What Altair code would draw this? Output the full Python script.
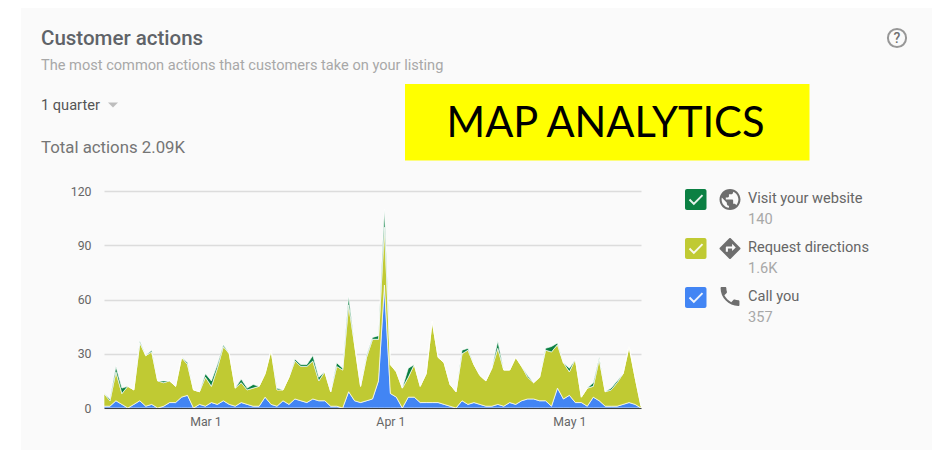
import altair as alt
import pandas as pd

# Daily values, 12 Feb - 13 May
call_you = [1,1,4,2,0,2,4,1,2,0,1,3,3,6,7,0,2,1,3,2,4,2,1,3,2,1,1,6,2,1,4,2,5,4,3,5,4,4,1,1,0,
            9,4,3,4,5,15,68,8,6,0,6,6,3,3,3,3,2,1,0,4,2,3,2,1,1,2,1,3,2,4,5,5,4,4,1,11,5,7,3,3,1,6,4,1,1,1,2,3,2,0]
directions_top = [8,4,20,8,12,10,36,29,31,15,14,15,12,28,24,10,9,17,12,22,34,30,11,14,10,11,12,19,32,10,10,17,26,23,23,26,15,20,9,23,21,
                  57,35,12,28,38,38,100,24,20,11,17,24,12,19,48,28,25,13,9,30,32,24,18,15,22,33,21,21,28,23,17,14,17,32,31,35,25,20,27,6,11,12,27,9,10,14,19,34,17,1]
website_top = [8,5,23,11,12,10,37,29,32,15,15,15,12,28,25,10,9,19,15,24,35,30,11,16,11,13,12,19,32,11,10,17,27,24,24,29,17,20,9,25,22,
               62,35,12,29,39,40,110,24,20,11,22,24,12,19,48,28,25,13,9,32,33,24,18,15,22,37,21,21,28,23,18,14,17,33,34,36,25,22,27,6,11,14,28,9,11,15,19,34,17,1]

series_names = ["Visit your website", "Request directions", "Call you"]
series_colors = ["#0b8043", "#c0ca33", "#4285f4"]
legend_values = ["140", "1.6K", "357"]
y_ticks = [0, 30, 60, 90, 120]
dates = pd.date_range("2018-02-12", periods=len(call_you)).strftime("%Y/%m/%d").tolist()

rows = []
for i, d in enumerate(dates):
    rows.append({"date": d, "series": "Call you", "rank": 0, "value": call_you[i]})
    rows.append({"date": d, "series": "Request directions", "rank": 1, "value": directions_top[i] - call_you[i]})
    rows.append({"date": d, "series": "Visit your website", "rank": 2, "value": website_top[i] - directions_top[i]})
df = pd.DataFrame(rows)

OX, OY = 104, 191  # page position of the plot origin


def one():
    return alt.Chart(alt.Data(values=[{"a": 1}]))


def note(text, px, py, size, color, weight=400, font="Roboto", align="left"):
    return one().mark_text(text=text, fontSize=size, color=color, fontWeight=weight, font=font,
                           align=align, baseline="middle").encode(
        x=alt.value(px - OX), y=alt.value(py - OY))


def box(x0, y0, x1, y1, color, radius=0):
    return one().mark_rect(color=color, cornerRadius=radius).encode(
        x=alt.value(x0 - OX), x2=alt.value(x1 - OX), y=alt.value(y0 - OY), y2=alt.value(y1 - OY))


def icon(path, px, py, size, color, filled=True, width=0, opacity=1):
    return one().mark_point(shape=path, size=size, filled=filled, color=color, opacity=opacity,
                            strokeWidth=width).encode(x=alt.value(px - OX), y=alt.value(py - OY))


GLOBE = ("M0 -10C-5.52 -10 -10 -5.52 -10 0s4.48 10 10 10 10-4.48 10-10S5.52 -10 0 -10zm-1 17.93c-3.95-.49-7-3.85-7-7.93 "
         "0-.62.08-1.21.21-1.79L-3 3v1c0 1.1.9 2 2 2v1.93zm6.9-2.54c-.26-.81-1-1.39-1.9-1.39h-1v-3c0-.55-.45-1-1-1H-4v-2h2"
         "c.55 0 1-.45 1-1V-5h2c1.1 0 2-.9 2-2v-.41c2.93 1.19 5 4.06 5 7.41 0 2.08-.8 3.97-2.1 5.39z")
ROUTE = ("M9.71 -.71l-9-9c-.39-.39-1.02-.39-1.41 0l-9 9c-.39.39-.39 1.02 0 1.41l9 9c.39.39 1.02.39 1.41 0l9-9"
         "c.39-.38.39-1.01 0-1.41zM2 2.5V0h-4v3H-4v-4c0-.55.45-1 1-1h5V-4.5l3.5 3.5-3.5 3.5z")
PHONE = ("M-5.38 -1.21c1.44 2.83 3.76 5.14 6.59 6.59l2.2-2.2c.27-.27.67-.36 1.02-.24 1.12.37 2.33.57 3.57.57"
         ".55 0 1 .45 1 1V8c0 .55-.45 1-1 1-9.39 0-17-7.61-17-17 0-.55.45-1 1-1h3.5c.55 0 1 .45 1 1 "
         "0 1.25.2 2.45.57 3.57.11.35.03.74-.25 1.02l-2.2 2.2z")
CHECK = "M-6 0L-2 4L6 -4"

areas = alt.Chart(df).mark_area(
    interpolate="linear", opacity=1, stroke="#ffffff", strokeWidth=0.8, strokeOpacity=0.85,
).encode(
    x=alt.X("date:T", title=None, scale=alt.Scale(nice=False),
            axis=alt.Axis(values=[alt.DateTime(year=2018, month=3, date=1),
                                  alt.DateTime(year=2018, month=4, date=1),
                                  alt.DateTime(year=2018, month=5, date=1)],
                          format="%b %-d", grid=False, ticks=False, labelPadding=7,
                          domainColor="#3c4043", domainWidth=1.2, zindex=1,
                          labelFont="Roboto", labelFontSize=12.3, labelColor="#666666")),
    y=alt.Y("value:Q", stack="zero", title=None, scale=alt.Scale(domain=[0, 120], nice=False),
            axis=alt.Axis(values=y_ticks, ticks=False, domain=False, labelPadding=13,
                          gridColor="#dcdcdc", gridWidth=1.5,
                          labelFont="Roboto", labelFontSize=12.3, labelColor="#666666")),
    color=alt.Color("series:N", legend=None,
                    scale=alt.Scale(domain=series_names, range=series_colors)),
    order=alt.Order("rank:Q", sort="ascending"),
)

legend_layers = []
for name, col, val, yy, path in zip(series_names, series_colors, legend_values, [199.5, 248.5, 297.5],
                                    [GLOBE, ROUTE, PHONE]):
    legend_layers += [
        box(685, yy - 10.5, 706.5, yy + 10.5, col, 2),
        icon(CHECK, 696, yy, 4.7, "#ffffff", filled=False, width=2, opacity=0.9),
        icon(path, 730, yy + (0 if path != PHONE else -1), 4.4, "#6e6e6e"),
        note(name, 748, yy - 0.5, 14.6, "#666666"),
        note(val, 748, yy + 20.5, 14.6, "#a8a8a8"),
    ]

layers = [
    box(8, 8, 21, 451, "#ffffff"),
    box(8, 450, 932, 451, "#ffffff"),
    areas,
    note("Customer actions", 41, 39, 20.5, "#5f6368", weight=500),
    note("The most common actions that customers take on your listing", 41, 66, 14.6, "#a8a8a8"),
    note("1 quarter", 41, 106, 14.6, "#555555"),
    icon("M-5 -2.5L5 -2.5L0 2.5z", 113, 105, 4, "#bdbdbd"),
    note("Total actions 2.09K", 41, 148, 16.8, "#757575"),
    box(405, 84, 809.5, 160.5, "#ffff00"),
    note("MAP ANALYTICS", 605.5, 125, 41.6, "#000000", font="Lato", align="center"),
    one().mark_point(shape="circle", size=330, filled=False, color="#6e6e6e", strokeWidth=2).encode(
        x=alt.value(897 - OX), y=alt.value(38 - OY)),
    note("?", 897, 38.5, 14, "#6e6e6e", weight=500, align="center"),
] + legend_layers

chart = alt.layer(*layers).properties(
    width=537, height=217, background="#fafafa",
    padding={"left": 96, "top": 183, "right": 291, "bottom": 43},
    autosize=alt.AutoSizeParams(type="none"),
).configure_view(stroke=None)

chart.save("out.html", embed_options={"renderer": "svg", "actions": False})
